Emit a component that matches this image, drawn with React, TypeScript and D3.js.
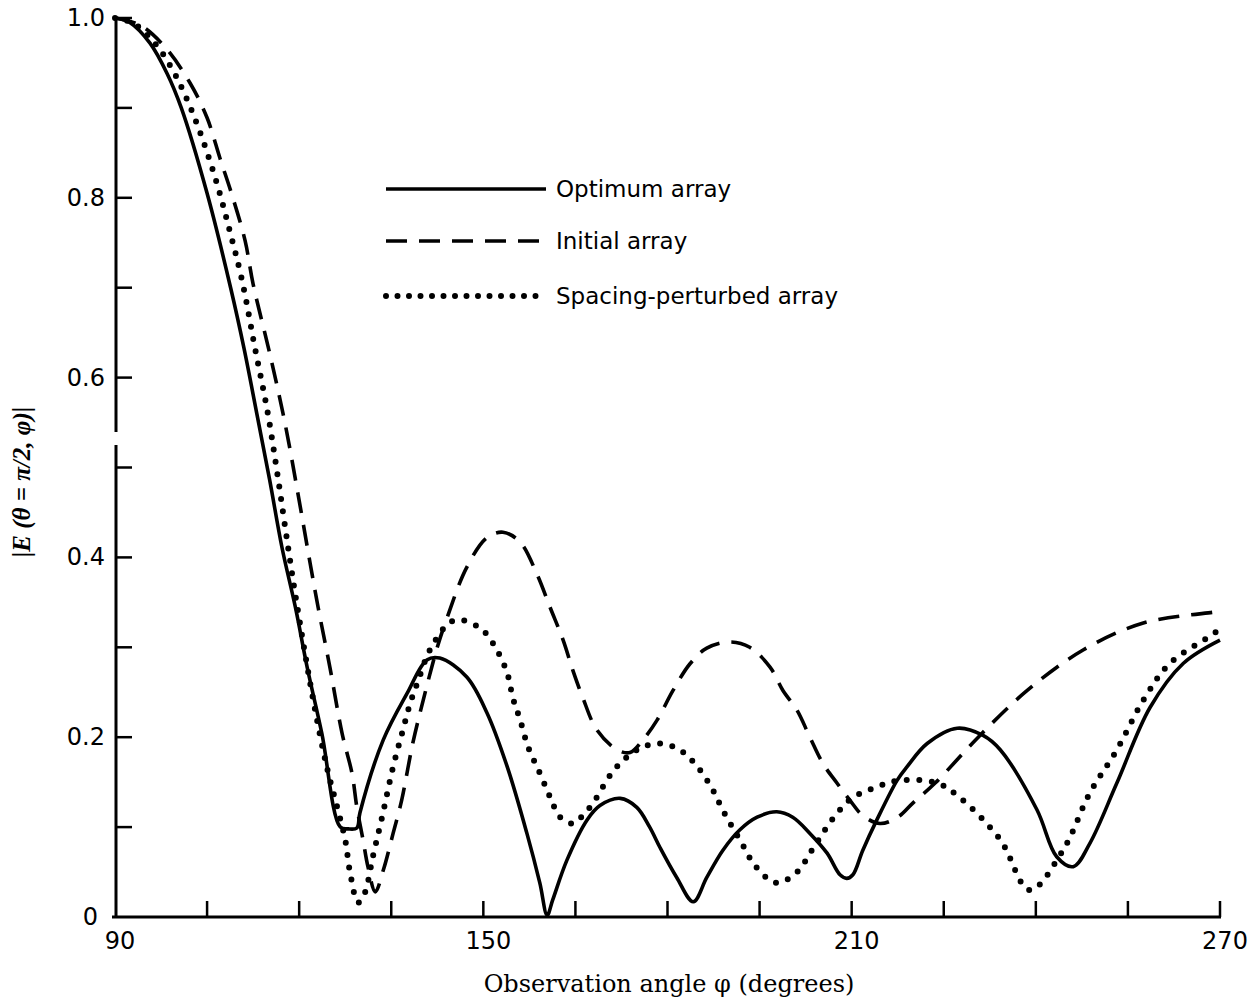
import React, { useEffect, useRef } from "react";
import * as d3 from "d3";

// observation angle (deg) / |E| pairs
const optimumAngle = [90, 92.4, 95.7, 98.5, 100.8, 105.0, 108.9, 111.0, 113.1, 115.2, 117.2, 119.4, 121.3, 123.7, 126.7, 128.0, 129.4, 129.9, 133.7, 137.6, 140.8, 142.9, 147.3, 150.6, 153.9, 157.1, 159.2, 160.4, 161.3, 163.6, 166.9, 169.0, 172.3, 175.0, 177.1, 178.8, 181.5, 184.2, 186.4, 189.0, 191.8, 194.6, 197.8, 200.4, 203.2, 206.0, 208.1, 209.2, 210.2, 211.8, 214.1, 217.4, 219.0, 222.3, 227.2, 231.4, 234.2, 240.2, 243.4, 246.1, 248.8, 253.2, 258.6, 264.0, 270];
const optimumValue = [1.0, 0.995, 0.972, 0.938, 0.9, 0.805, 0.698, 0.633, 0.56, 0.486, 0.411, 0.344, 0.278, 0.204, 0.1, 0.098, 0.099, 0.116, 0.197, 0.249, 0.286, 0.288, 0.267, 0.227, 0.167, 0.093, 0.038, 0.002, 0.019, 0.063, 0.108, 0.124, 0.132, 0.122, 0.1, 0.077, 0.044, 0.017, 0.044, 0.074, 0.097, 0.111, 0.117, 0.111, 0.093, 0.071, 0.047, 0.043, 0.047, 0.074, 0.108, 0.152, 0.167, 0.193, 0.21, 0.202, 0.186, 0.119, 0.067, 0.056, 0.082, 0.149, 0.233, 0.282, 0.308];

const initialAngle = [90, 94.1, 98.1, 102.2, 105.0, 107.1, 109.2, 111.2, 112.5, 115.2, 117.7, 119.8, 121.8, 123.1, 125.0, 127.0, 128.6, 129.4, 130.4, 131.2, 132.4, 133.7, 135.3, 136.7, 138.5, 140.2, 142.5, 144.1, 147.3, 150.6, 153.2, 156.0, 158.7, 160.9, 163.0, 164.6, 166.2, 168.5, 171.8, 173.9, 176.0, 178.3, 180.9, 183.7, 186.4, 190.2, 193.4, 196.7, 198.8, 201.1, 203.2, 205.3, 207.6, 209.7, 211.8, 214.6, 217.5, 220.0, 223.6, 230.9, 238.6, 247.7, 257.5, 268.9, 270];
const initialValue = [1.0, 0.992, 0.968, 0.928, 0.889, 0.844, 0.8, 0.752, 0.704, 0.627, 0.549, 0.471, 0.393, 0.344, 0.278, 0.204, 0.16, 0.122, 0.086, 0.056, 0.028, 0.052, 0.093, 0.13, 0.193, 0.241, 0.3, 0.333, 0.389, 0.422, 0.428, 0.417, 0.382, 0.344, 0.308, 0.274, 0.244, 0.208, 0.186, 0.183, 0.197, 0.219, 0.252, 0.282, 0.299, 0.306, 0.3, 0.278, 0.252, 0.23, 0.2, 0.171, 0.149, 0.13, 0.113, 0.104, 0.111, 0.127, 0.149, 0.202, 0.252, 0.297, 0.327, 0.339, 0.34];

const perturbedAngle = [90, 93.0, 96.5, 99.4, 101.5, 103.8, 106.6, 108.7, 110.7, 112.8, 114.9, 116.6, 118.2, 119.6, 122.3, 124.5, 126.2, 127.5, 128.3, 129.6, 130.7, 132.0, 133.5, 135.3, 136.9, 138.1, 139.4, 141.3, 144.6, 146.7, 149.9, 152.2, 153.9, 154.8, 156.0, 157.3, 159.2, 160.9, 162.5, 164.6, 166.2, 167.9, 171.0, 173.4, 176.0, 178.8, 182.0, 185.0, 187.4, 189.0, 192.1, 194.4, 197.7, 201.1, 203.5, 207.0, 210.0, 213.8, 217.9, 223.9, 227.6, 234.2, 239.0, 244.4, 248.8, 253.2, 257.5, 261.8, 269.6, 270];
const perturbedValue = [1.0, 0.994, 0.972, 0.942, 0.913, 0.874, 0.816, 0.763, 0.708, 0.633, 0.56, 0.486, 0.411, 0.349, 0.241, 0.167, 0.122, 0.086, 0.049, 0.016, 0.027, 0.067, 0.111, 0.167, 0.208, 0.238, 0.263, 0.297, 0.328, 0.33, 0.319, 0.297, 0.271, 0.244, 0.219, 0.189, 0.16, 0.133, 0.111, 0.104, 0.113, 0.127, 0.161, 0.178, 0.189, 0.193, 0.186, 0.166, 0.141, 0.119, 0.082, 0.056, 0.038, 0.05, 0.074, 0.11, 0.132, 0.144, 0.152, 0.149, 0.133, 0.086, 0.03, 0.074, 0.138, 0.186, 0.241, 0.282, 0.319, 0.325];

const seriesNames = ["Optimum array", "Initial array", "Spacing-perturbed array"];
const xLabels = [90, 150, 210, 270];
const yLabels = [0, 0.2, 0.4, 0.6, 0.8, 1.0];

const W = 1257, H = 1000;
const styles = [
  { dash: null, width: 3.6, cap: "butt" },
  { dash: "21 12", width: 3.6, cap: "butt" },
  { dash: "0 12.5", width: 6, cap: "round" },
];

export default function App() {
  const ref = useRef<SVGSVGElement>(null);

  useEffect(() => {
    const svg = d3.select(ref.current);
    svg.selectAll("*").remove();

    const x = d3.scaleLinear().domain([90, 270]).range([115, 1220]);
    const y = d3.scaleLinear().domain([0, 1]).range([917, 18]);

    const g = svg.append("g");

    // axes drawn by hand to look like the scan (ticks pointing inward)
    g.append("line").attr("x1", 112).attr("x2", 1221).attr("y1", 917).attr("y2", 917)
      .attr("stroke", "#000").attr("stroke-width", 3);
    g.append("line").attr("x1", 116).attr("x2", 116).attr("y1", 18).attr("y2", 432)
      .attr("stroke", "#000").attr("stroke-width", 3);
    g.append("line").attr("x1", 116).attr("x2", 116).attr("y1", 445).attr("y2", 918)
      .attr("stroke", "#000").attr("stroke-width", 3);

    g.selectAll(".xt").data(d3.range(105, 271, 15)).enter().append("line")
      .attr("x1", d => x(d)).attr("x2", d => x(d)).attr("y1", 917).attr("y2", 901)
      .attr("stroke", "#000").attr("stroke-width", 2.5);
    g.selectAll(".yt").data(d3.range(1, 11).map(d => d / 10)).enter().append("line")
      .attr("x1", 116).attr("x2", 132).attr("y1", d => y(d)).attr("y2", d => y(d))
      .attr("stroke", "#000").attr("stroke-width", 2.5);

    g.selectAll(".xl").data(xLabels).enter().append("text")
      .attr("x", d => x(d) + 5).attr("y", 949)
      .attr("text-anchor", "middle").attr("font-family", "DejaVu Sans").attr("font-size", 24)
      .text(d => String(d));
    g.selectAll(".yl").data(yLabels).enter().append("text")
      .attr("x", d => (d === 0 ? 98 : 105)).attr("y", d => y(d) + 8)
      .attr("text-anchor", "end").attr("font-family", "DejaVu Sans").attr("font-size", 24)
      .text(d => (d === 0 ? "0" : d.toFixed(1)));

    g.append("text").attr("x", 669).attr("y", 992).attr("text-anchor", "middle")
      .attr("font-family", "DejaVu Serif").attr("font-size", 24)
      .text("Observation angle φ (degrees)");
    g.append("text").attr("transform", "translate(30,482) rotate(-90)").attr("text-anchor", "middle")
      .attr("font-family", "Liberation Serif").attr("font-style", "italic").attr("font-weight", "bold")
      .attr("font-size", 25)
      .text("|E (θ = π/2, φ)|");

    const line = d3.line<[number, number]>()
      .x(d => x(d[0])).y(d => Math.min(y(0), y(d[1])))
      .curve(d3.curveCatmullRom.alpha(0.5));

    const series: [number, number][][] = [
      optimumAngle.map((a, i) => [a, optimumValue[i]]),
      initialAngle.map((a, i) => [a, initialValue[i]]),
      perturbedAngle.map((a, i) => [a, perturbedValue[i]]),
    ];

    series.forEach((s, i) => {
      g.append("path").attr("d", line(s) as string)
        .attr("fill", "none").attr("stroke", "#000")
        .attr("stroke-width", styles[i].width)
        .attr("stroke-linecap", styles[i].cap)
        .attr("stroke-linejoin", "round")
        .attr("stroke-dasharray", styles[i].dash);
    });

    // legend
    const legY = [189, 241, 296];
    seriesNames.forEach((name, i) => {
      g.append("line").attr("x1", 386).attr("x2", 546).attr("y1", legY[i]).attr("y2", legY[i])
        .attr("stroke", "#000").attr("stroke-width", styles[i].width)
        .attr("stroke-linecap", styles[i].cap)
        .attr("stroke-dasharray", i === 2 ? "0 11.5" : styles[i].dash);
      g.append("text").attr("x", 556).attr("y", legY[i] + 8)
        .attr("font-family", "DejaVu Sans").attr("font-size", 23)
        .text(name);
    });
  }, []);

  return (
    <svg ref={ref} width={W} height={H}
      style={{ position: "absolute", left: 0, top: 0, background: "#fff" }} />
  );
}
